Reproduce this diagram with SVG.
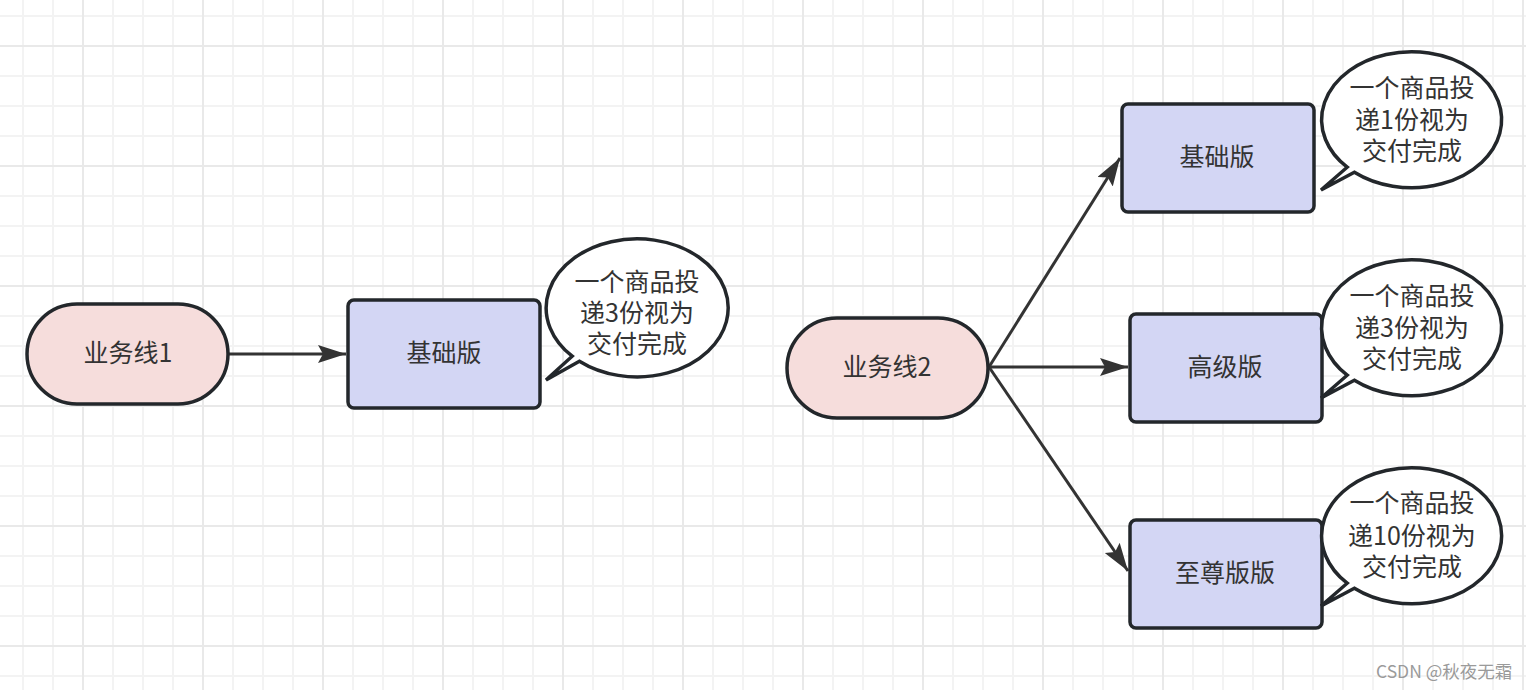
<svg xmlns="http://www.w3.org/2000/svg" width="1526" height="690" viewBox="0 0 1526 690">
<defs>
<pattern id="grid" patternUnits="userSpaceOnUse" x="82" y="45" width="120" height="120">
<rect x="30" y="0" width="2" height="120" fill="#f3f3f3"/>
<rect x="60" y="0" width="2" height="120" fill="#f3f3f3"/>
<rect x="90" y="0" width="2" height="120" fill="#f3f3f3"/>
<rect x="0" y="30" width="120" height="2" fill="#f3f3f3"/>
<rect x="0" y="60" width="120" height="2" fill="#f3f3f3"/>
<rect x="0" y="90" width="120" height="2" fill="#f3f3f3"/>
<rect x="0" y="0" width="2" height="120" fill="#e9e9e9"/>
<rect x="0" y="0" width="120" height="2" fill="#e9e9e9"/>
</pattern>
<marker id="arr" markerUnits="userSpaceOnUse" markerWidth="30" markerHeight="20" refX="28" refY="9" orient="auto" viewBox="0 0 30 20">
<path d="M0,0 L28,9 L0,18 L5,9 Z" fill="#333333"/>
</marker>
</defs>
<style>
.pill{fill:#f6dddc;stroke:#23272b;stroke-width:3.5}
.box{fill:#d3d6f4;stroke:#23272b;stroke-width:3.5}
.call{fill:#ffffff;stroke:#23272b;stroke-width:3.5;stroke-linejoin:miter}
.t{font-family:"Noto Sans CJK SC","Liberation Sans",sans-serif;font-size:25px;fill:#333333;text-anchor:middle;dominant-baseline:central}
.edge{stroke:#333333;stroke-width:3;fill:none;marker-end:url(#arr)}
.wm{font-family:"Noto Sans CJK SC","Liberation Sans",sans-serif;font-size:17.5px;fill:#9a9a9a}
</style>
<rect width="1526" height="690" fill="#ffffff"/>
<rect width="1526" height="690" fill="url(#grid)"/>

<g id="connectors">
<line class="edge" x1="229" y1="354" x2="346" y2="354"/>
<line class="edge" x1="989" y1="367" x2="1120" y2="158"/>
<line class="edge" x1="989" y1="367" x2="1128" y2="367"/>
<line class="edge" x1="989" y1="367" x2="1128" y2="571"/>
</g>

<g id="line1">
<rect class="pill" x="27" y="304" width="201" height="100" rx="50" ry="50"/>
<text class="t" x="128" y="351">业务线1</text>
</g>
<g id="basic1">
<rect class="box" x="348" y="300" width="192" height="108" rx="6" ry="6"/>
<text class="t" x="444" y="351">基础版</text>
</g>
<g id="callout1">
<path class="call" d="M572.2,356.2 A91 69 0 1 1 579.4,361.2 L546,380 Z"/>
<text class="t" x="637" y="280">一个商品投</text>
<text class="t" x="637" y="311">递3份视为</text>
<text class="t" x="637" y="342">交付完成</text>
</g>

<g id="line2">
<rect class="pill" x="787" y="318" width="201" height="100" rx="50" ry="50"/>
<text class="t" x="887" y="365">业务线2</text>
</g>
<g id="basic2">
<rect class="box" x="1122" y="104" width="192" height="108" rx="6" ry="6"/>
<text class="t" x="1217" y="155">基础版</text>
</g>
<g id="advanced">
<rect class="box" x="1130" y="314" width="192" height="108" rx="6" ry="6"/>
<text class="t" x="1225" y="365">高级版</text>
</g>
<g id="supreme">
<rect class="box" x="1130" y="520" width="192" height="108" rx="6" ry="6"/>
<text class="t" x="1225" y="571">至尊版版</text>
</g>

<g id="callout2">
<path class="call" d="M1347.2,167.2 A90 68 0 1 1 1354.4,172.2 L1321,190 Z"/>
<text class="t" x="1412" y="86">一个商品投</text>
<text class="t" x="1412" y="118">递1份视为</text>
<text class="t" x="1412" y="149">交付完成</text>
</g>
<g id="callout3">
<path class="call" d="M1347.2,375.2 A90 68 0 1 1 1354.4,380.2 L1321,398 Z"/>
<text class="t" x="1412" y="294">一个商品投</text>
<text class="t" x="1412" y="326">递3份视为</text>
<text class="t" x="1412" y="357">交付完成</text>
</g>
<g id="callout4">
<path class="call" d="M1347.2,583.2 A90 68 0 1 1 1354.4,588.2 L1321,606 Z"/>
<text class="t" x="1412" y="501">一个商品投</text>
<text class="t" x="1412" y="534">递10份视为</text>
<text class="t" x="1412" y="565">交付完成</text>
</g>

<text class="wm" x="1376" y="678">CSDN @秋夜无霜</text>
</svg>
